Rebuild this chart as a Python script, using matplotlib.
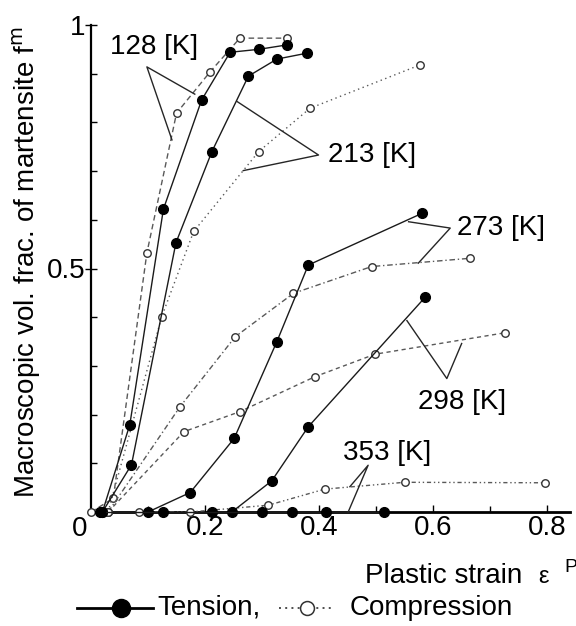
import matplotlib
matplotlib.use("Agg")
import matplotlib.pyplot as plt
from matplotlib.lines import Line2D

plt.rcParams['font.family'] = ['Liberation Sans', 'DejaVu Sans']

# ---------------- data ----------------
# Tension (filled markers, solid lines)
t128_x = [0.02, 0.068, 0.127, 0.194, 0.244, 0.294, 0.343]
t128_y = [0.0, 0.179, 0.622, 0.846, 0.944, 0.950, 0.959]
t213_x = [0.02, 0.071, 0.149, 0.212, 0.276, 0.326, 0.378]
t213_y = [0.0, 0.097, 0.553, 0.740, 0.895, 0.930, 0.942]
t273_x = [0.10, 0.174, 0.251, 0.326, 0.381, 0.580]
t273_y = [0.0, 0.040, 0.151, 0.350, 0.507, 0.613]
t298_x = [0.212, 0.247, 0.317, 0.381, 0.586]
t298_y = [0.0, 0.0, 0.064, 0.175, 0.441]
t353_x = [0.016, 0.127, 0.299, 0.352, 0.412, 0.513]
t353_y = [0.0, 0.0, 0.0, 0.0, 0.0, 0.0]

# Compression (open markers, broken lines)
c128_x = [0.0, 0.039, 0.098, 0.150, 0.209, 0.261, 0.343]
c128_y = [0.0, 0.028, 0.532, 0.819, 0.904, 0.973, 0.973]
c213_x = [0.03, 0.124, 0.180, 0.294, 0.384, 0.577]
c213_y = [0.0, 0.401, 0.576, 0.740, 0.829, 0.918]
c273_x = [0.03, 0.156, 0.253, 0.355, 0.492, 0.665]
c273_y = [0.0, 0.216, 0.360, 0.449, 0.504, 0.521]
c298_x = [0.03, 0.163, 0.261, 0.393, 0.498, 0.726]
c298_y = [0.0, 0.165, 0.206, 0.278, 0.324, 0.368]
c353_x = [0.085, 0.174, 0.311, 0.410, 0.550, 0.797]
c353_y = [0.0, 0.0, 0.014, 0.047, 0.061, 0.060]

temps = ["128 [K]", "213 [K]", "273 [K]", "298 [K]", "353 [K]"]
x_ticks = [0.2, 0.4, 0.6, 0.8]
x_ticklabels = ["0.2", "0.4", "0.6", "0.8"]
y_ticks = [0.5, 1.0]
y_ticklabels = ["0.5", "1"]

# ---------------- figure ----------------
W, H, DPI = 576, 626, 100
fig = plt.figure(figsize=(W / DPI, H / DPI), dpi=DPI)
ax = fig.add_axes([91 / W, 1 - 512 / H, (570 - 91) / W, (512 - 25) / H])
ax.set_xlim(0, 0.84)
ax.set_ylim(0, 1.0)

FS = 20
tens = [(t128_x, t128_y), (t213_x, t213_y), (t273_x, t273_y),
        (t298_x, t298_y), (t353_x, t353_y)]
comp = [(c128_x, c128_y), (c213_x, c213_y), (c273_x, c273_y),
        (c298_x, c298_y), (c353_x, c353_y)]
comp_dashes = [(4, 2.5), (1, 2.5), (4, 2, 1, 2), (3, 2.5), (3, 2, 1, 2, 1, 2)]

for (xs, ys), d in zip(comp, comp_dashes):
    ax.plot(xs, ys, color='0.35', lw=1.0, dashes=d, marker='o', ms=5.4,
            mfc='white', mec='0.2', mew=1.0, clip_on=False, zorder=3)
for xs, ys in tens:
    ax.plot(xs, ys, color='0.1', lw=1.0, ls='-', marker='o', ms=7.0,
            mfc='black', mec='black', clip_on=False, zorder=4)

# annotations: text plus two leader lines from a common vertex
ann = [
    # label, text pos (x,y), ha, vertex, end1, end2
    (temps[0], (0.033, 0.955), 'left', (0.098, 0.914), (0.182, 0.858), (0.142, 0.764)),
    (temps[1], (0.416, 0.733), 'left', (0.399, 0.733), (0.256, 0.843), (0.267, 0.701)),
    (temps[2], (0.641, 0.583), 'left', (0.630, 0.583), (0.557, 0.596), (0.574, 0.511)),
    (temps[3], (0.651, 0.226), 'center', (0.624, 0.274), (0.554, 0.393), (0.650, 0.346)),
    (temps[4], (0.519, 0.121), 'center', (0.486, 0.096), (0.451, 0.0), (0.454, 0.052)),
]
for lab, tp, ha, v, e1, e2 in ann:
    ax.text(tp[0], tp[1], lab, fontsize=FS, ha=ha, va='center', color='black', zorder=6)
    ax.plot([e1[0], v[0], e2[0]], [e1[1], v[1], e2[1]], color='0.15', lw=1.0,
            clip_on=False, zorder=5)

# axes styling
for s in ['top', 'right']:
    ax.spines[s].set_visible(False)
ax.spines['left'].set_linewidth(1.6)
ax.spines['bottom'].set_linewidth(2.0)
ax.set_xticks(x_ticks)
ax.set_xticklabels(x_ticklabels, fontsize=FS)
ax.set_yticks(y_ticks)
ax.set_yticklabels(y_ticklabels, fontsize=FS)
ax.set_xticks([0.1, 0.3, 0.5, 0.7], minor=True)
ax.set_yticks([0.1, 0.2, 0.3, 0.4, 0.6, 0.7, 0.8, 0.9], minor=True)
ax.tick_params(axis='x', which='major', direction='in', length=5, width=1, pad=2)
ax.tick_params(axis='x', which='minor', direction='in', length=4, width=1)
ax.tick_params(axis='y', which='major', direction='inout', length=8, width=1, pad=0)
ax.tick_params(axis='y', which='minor', direction='in', length=4, width=1)
ax.text(-0.02, -0.008, "0", fontsize=FS, ha='center', va='top', transform=ax.transData)

# axis titles
fig.text(27 / W, 1 - 262 / H, r"Macroscopic vol. frac. of martensite f$^{\rm m}$",
         rotation=90, fontsize=FS, ha='center', va='center')
fig.text(365 / W, 1 - 583 / H, "Plastic strain", fontsize=FS, ha='left', va='baseline')
fig.text(538 / W, 1 - 583 / H, "ε", fontsize=17, ha='left', va='baseline')
fig.text(564 / W, 1 - 572 / H, "P", fontsize=14, ha='left', va='baseline')

# legend drawn manually
ly = 1 - 608 / H
fig.add_artist(Line2D([77 / W, 153 / W], [ly, ly], color='black', lw=2.0,
                      transform=fig.transFigure))
fig.add_artist(Line2D([121 / W], [ly], marker='o', ms=13, mfc='black', mec='black',
                      transform=fig.transFigure))
fig.text(157 / W, ly, "Tension,", fontsize=FS, ha='left', va='center')
fig.add_artist(Line2D([279 / W, 333 / W], [ly, ly], color='0.3', lw=1.4, dashes=(1, 2.2),
                      transform=fig.transFigure))
fig.add_artist(Line2D([307 / W], [ly], marker='o', ms=10, mfc='white', mec='0.2', mew=1.1,
                      transform=fig.transFigure))
fig.text(350 / W, ly, "Compression", fontsize=FS, ha='left', va='center')

fig.savefig("out.png", dpi=DPI, facecolor='white')
